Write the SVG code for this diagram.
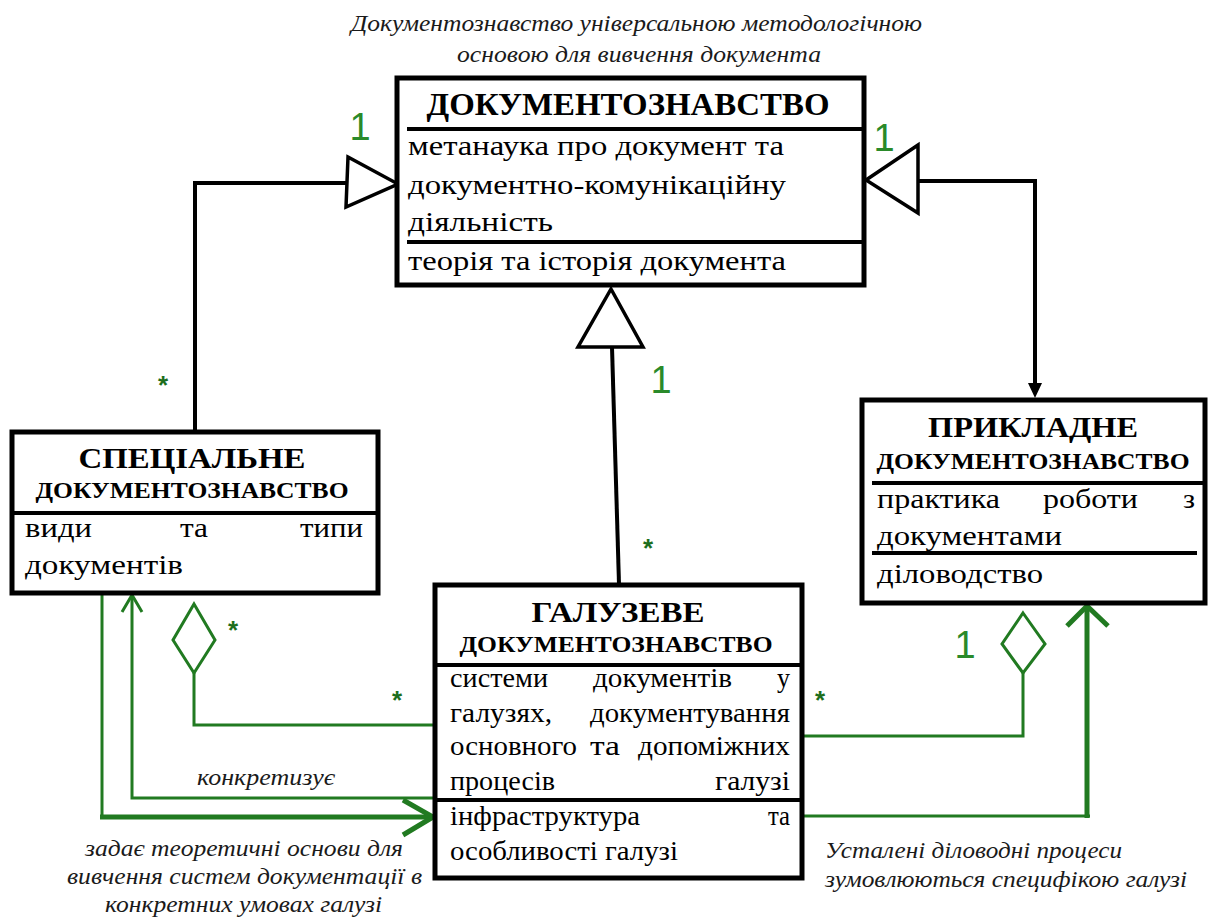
<svg xmlns="http://www.w3.org/2000/svg" width="1208" height="922" viewBox="0 0 1208 922">
<style>
.box{fill:#fff;stroke:#000;stroke-width:5}
.sep{stroke:#000;stroke-width:4}
.t{font-family:"Liberation Serif","DejaVu Serif",serif;font-size:28px;fill:#000}
.h{font-family:"Liberation Serif","DejaVu Serif",serif;font-weight:bold;fill:#000;text-anchor:middle}
.cap{font-family:"Liberation Serif","DejaVu Serif",serif;font-style:italic;font-size:23px;fill:#1a1a1a}
.blk{fill:none;stroke:#000;stroke-width:4}
.tri{fill:#fff;stroke:#000;stroke-width:3.5;stroke-linejoin:miter}
.g{fill:none;stroke:#217a21;stroke-width:3}
.gt{fill:none;stroke:#217a21;stroke-width:5}
.gd{fill:#fff;stroke:#217a21;stroke-width:3}
.one{font-family:"Liberation Sans",Arial,sans-serif;font-size:38px;fill:#2a8a2a;text-anchor:middle}
.star{font-family:"Liberation Sans",Arial,sans-serif;font-size:26px;font-weight:bold;fill:#1d6e1d;text-anchor:middle}
</style>

<g id="caption-top">
<text class="cap" x="351" y="31" textLength="571" lengthAdjust="spacingAndGlyphs">Документознавство універсальною методологічною</text>
<text class="cap" x="457" y="62" textLength="364" lengthAdjust="spacingAndGlyphs">основою для вивчення документа</text>
</g>

<g id="connectors">
<polyline class="blk" points="195,432 195,183 347,183"/>
<polygon class="tri" points="348,157 398,184 346,207"/>
<polyline class="blk" points="1035,383 1035,181 918,181"/>
<polygon class="tri" points="918,145 866,180 918,213"/>
<polygon points="1028,383 1042,383 1035,398" fill="#000"/>
<line class="blk" x1="612" y1="347" x2="619" y2="584"/>
<polygon class="tri" points="611,289 643,347 578,347"/>
<polyline class="g" points="102,593 102,817"/>
<polyline class="gt" points="100,817 431,817"/>
<polyline class="gt" points="403,800 433,817 403,835"/>
<polyline class="g" points="435,798 132,798 132,596"/>
<polyline class="g" points="122,612 132,595 142,612"/>
<polyline class="g" points="194,673 194,725 437,725"/>
<polygon class="gd" points="194,604 215,640 194,673 173,640"/>
<polyline class="g" points="1023,673 1023,736 803,736"/>
<polygon class="gd" points="1023,613 1045,644 1023,673 1002,644"/>
<polyline class="g" points="803,816 1090,816"/>
<polyline class="gt" points="1087,818 1087,607"/>
<polyline class="gt" points="1067,626 1087,606 1108,626"/>
</g>

<g id="labels">
<text class="one" x="360" y="140">1</text>
<text class="one" x="884" y="151">1</text>
<text class="one" x="661" y="393">1</text>
<text class="one" x="965" y="658">1</text>
<text class="star" x="163" y="394">*</text>
<text class="star" x="648" y="557">*</text>
<text class="star" x="233" y="639">*</text>
<text class="star" x="397" y="709">*</text>
<text class="star" x="820" y="709">*</text>
<text class="cap" x="197" y="785" textLength="138" lengthAdjust="spacingAndGlyphs">конкретизує</text>
<text class="cap" x="85" y="856" textLength="318" lengthAdjust="spacingAndGlyphs">задає теоретичні основи для</text>
<text class="cap" x="67" y="884" textLength="355" lengthAdjust="spacingAndGlyphs">вивчення систем документації в</text>
<text class="cap" x="105" y="912" textLength="277" lengthAdjust="spacingAndGlyphs">конкретних умовах галузі</text>
<text class="cap" x="825" y="858" textLength="297" lengthAdjust="spacingAndGlyphs">Усталені діловодні процеси</text>
<text class="cap" x="825" y="887" textLength="362" lengthAdjust="spacingAndGlyphs">зумовлюються специфікою галузі</text>
</g>

<g id="node-documentoznavstvo">
<rect class="box" x="397" y="78" width="467" height="207"/>
<line class="sep" x1="407" y1="129" x2="864" y2="129"/>
<line class="sep" x1="407" y1="242" x2="864" y2="242"/>
<text class="h" x="628" y="115" font-size="32" textLength="403" lengthAdjust="spacingAndGlyphs">ДОКУМЕНТОЗНАВСТВО</text>
<text class="t" x="408" y="155" textLength="376" lengthAdjust="spacingAndGlyphs">метанаука про документ та</text>
<text class="t" x="408" y="194" textLength="378" lengthAdjust="spacingAndGlyphs">документно-комунікаційну</text>
<text class="t" x="408" y="231" textLength="145" lengthAdjust="spacingAndGlyphs">діяльність</text>
<text class="t" x="408" y="270" textLength="378" lengthAdjust="spacingAndGlyphs">теорія та історія документа</text>
</g>

<g id="node-special">
<rect class="box" x="12" y="432" width="366" height="161"/>
<line class="sep" x1="12" y1="513" x2="378" y2="513"/>
<text class="h" x="192" y="468" font-size="30" textLength="227" lengthAdjust="spacingAndGlyphs">СПЕЦІАЛЬНЕ</text>
<text class="h" x="192" y="498" font-size="24" textLength="313" lengthAdjust="spacingAndGlyphs">ДОКУМЕНТОЗНАВСТВО</text>
<text class="t" x="25" y="537" textLength="67" lengthAdjust="spacingAndGlyphs">види</text>
<text class="t" x="180" y="537" textLength="28" lengthAdjust="spacingAndGlyphs">та</text>
<text class="t" x="300" y="537" textLength="63" lengthAdjust="spacingAndGlyphs">типи</text>
<text class="t" x="25" y="574" textLength="158" lengthAdjust="spacingAndGlyphs">документів</text>
</g>

<g id="node-galuzeve">
<rect class="box" x="435" y="585" width="367" height="293"/>
<line class="sep" x1="435" y1="665" x2="802" y2="665"/>
<line class="sep" x1="435" y1="800" x2="802" y2="800"/>
<text class="h" x="618" y="622" font-size="30" textLength="173" lengthAdjust="spacingAndGlyphs">ГАЛУЗЕВЕ</text>
<text class="h" x="616" y="652" font-size="24" textLength="313" lengthAdjust="spacingAndGlyphs">ДОКУМЕНТОЗНАВСТВО</text>
<text class="t" x="450" y="687" textLength="98" lengthAdjust="spacingAndGlyphs">системи</text>
<text class="t" x="593" y="687" textLength="139" lengthAdjust="spacingAndGlyphs">документів</text>
<text class="t" x="777" y="687" textLength="13" lengthAdjust="spacingAndGlyphs">у</text>
<text class="t" x="450" y="722" textLength="102" lengthAdjust="spacingAndGlyphs">галузях,</text>
<text class="t" x="590" y="722" textLength="200" lengthAdjust="spacingAndGlyphs">документування</text>
<text class="t" x="450" y="755" textLength="127" lengthAdjust="spacingAndGlyphs">основного</text>
<text class="t" x="590" y="755" textLength="30" lengthAdjust="spacingAndGlyphs">та</text>
<text class="t" x="638" y="755" textLength="152" lengthAdjust="spacingAndGlyphs">допоміжних</text>
<text class="t" x="450" y="790" textLength="105" lengthAdjust="spacingAndGlyphs">процесів</text>
<text class="t" x="715" y="790" textLength="75" lengthAdjust="spacingAndGlyphs">галузі</text>
<text class="t" x="450" y="825" textLength="190" lengthAdjust="spacingAndGlyphs">інфраструктура</text>
<text class="t" x="768" y="825" textLength="22" lengthAdjust="spacingAndGlyphs">та</text>
<text class="t" x="450" y="860" textLength="228" lengthAdjust="spacingAndGlyphs">особливості галузі</text>
</g>

<g id="node-prykladne">
<rect class="box" x="862" y="400" width="343" height="203"/>
<line class="sep" x1="872" y1="483" x2="1205" y2="483"/>
<line class="sep" x1="872" y1="553" x2="1197" y2="553"/>
<text class="h" x="1033" y="437" font-size="30" textLength="210" lengthAdjust="spacingAndGlyphs">ПРИКЛАДНЕ</text>
<text class="h" x="1033" y="469" font-size="24" textLength="313" lengthAdjust="spacingAndGlyphs">ДОКУМЕНТОЗНАВСТВО</text>
<text class="t" x="877" y="508" textLength="123" lengthAdjust="spacingAndGlyphs">практика</text>
<text class="t" x="1043" y="508" textLength="95" lengthAdjust="spacingAndGlyphs">роботи</text>
<text class="t" x="1183" y="508" textLength="12" lengthAdjust="spacingAndGlyphs">з</text>
<text class="t" x="877" y="545" textLength="185" lengthAdjust="spacingAndGlyphs">документами</text>
<text class="t" x="877" y="583" textLength="166" lengthAdjust="spacingAndGlyphs">діловодство</text>
</g>
</svg>
